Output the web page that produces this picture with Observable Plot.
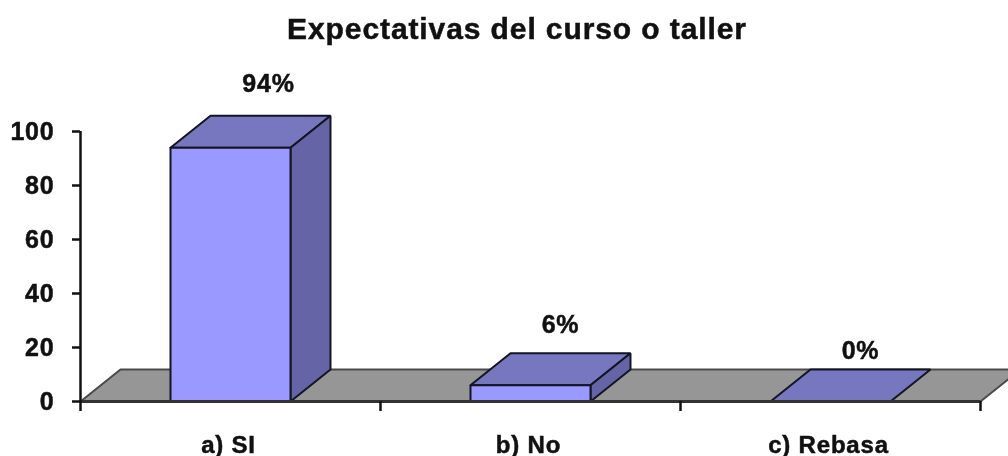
<!DOCTYPE html>
<html>
<head>
<meta charset="utf-8">
<script src="https://cdn.jsdelivr.net/npm/d3@7"></script>
<script src="https://cdn.jsdelivr.net/npm/@observablehq/plot@0.6"></script>
<style>
  html, body { margin: 0; padding: 0; background: #fff; overflow: hidden; }
  #title { height: 60px; box-sizing: border-box; padding-left: 26px; text-align: center; letter-spacing: 0.9px;
    font: bold 30px/58px "Liberation Sans", Arial, sans-serif; color: #111; filter: blur(0.45px);
    -webkit-text-stroke: 0.5px #111; }
  svg { display: block; filter: blur(0.45px); }
  svg text { letter-spacing: 0.8px; stroke: #111; stroke-width: 0.5px; }
</style>
</head>
<body>
<div id="title">Expectativas del curso o taller</div>
<div id="chart"></div>
<script>
const categories = ["a) SI", "b) No", "c) Rebasa"];
const values = [94, 6, 0];
const valueLabels = ["94%", "6%", "0%"];
const yTicks = [0, 20, 40, 60, 80, 100];
const xBoundaries = [0, 1, 2, 3];

// 3D projection expressed in data units
const barWidth = 0.4;
const depthX = 0.1333;
const depthY = 11.85;

const poly = (pts, id, kind) => pts.concat([pts[0]]).map(([x, y]) => ({x, y, id, kind}));
const floorFace = poly([[0, 0], [3, 0], [3 + depthX, depthY], [depthX, depthY]], "floor", "floor");
const faces = values.flatMap((v, i) => {
  const l = i + 0.5 - barWidth / 2, r = i + 0.5 + barWidth / 2;
  const out = [poly([[l, v], [r, v], [r + depthX, v + depthY], [l + depthX, v + depthY]], "top" + i, "top")];
  if (v > 0) {
    out.push(poly([[r, 0], [r + depthX, depthY], [r + depthX, v + depthY], [r, v]], "side" + i, "side"));
    out.push(poly([[l, 0], [r, 0], [r, v], [l, v]], "front" + i, "front"));
  }
  return out.flat();
});
const colours = {floor: "#969696", top: "#7777c0", side: "#6464a6", front: "#9999ff"};
const face = (rows, sw, stroke) => Plot.line(rows, {x: "x", y: "y", z: "id", fill: d => colours[d.kind],
  stroke, strokeWidth: sw, curve: "linear", strokeLinejoin: "miter"});

const font = '"Liberation Sans", Arial, sans-serif';
const labelRows = categories.map((c, i) => ({c, x: i + 0.5, v: values[i], t: valueLabels[i], i}));
const labelLift = [-32, -28, -19];
const labelShift = [10, 2, 2];

const chart = Plot.plot({
  width: 1008, height: 396,
  marginLeft: 80, marginRight: 28, marginTop: 71, marginBottom: 55,
  style: {fontFamily: font, background: "transparent", overflow: "hidden"},
  x: {type: "linear", domain: [0, 3], axis: null},
  y: {domain: [0, 100], axis: null},
  marks: [
    face(floorFace, 2, "#4a4a4a"),
    face(faces, 2, "#141424"),
    Plot.ruleY([0], {x1: 0, x2: 3, stroke: "#333", strokeWidth: 3}),
    Plot.ruleX([0], {y1: 100, y2: 0, stroke: "#111", strokeWidth: 2.5}),
    Plot.axisY({ticks: yTicks, tickSize: 8, tickPadding: 18, tickFormat: d => d, label: null,
      fontSize: 25, fontWeight: "bold", stroke: "#111", strokeWidth: 2.5, fill: "#111"}),
    Plot.axisX({ticks: xBoundaries, tickSize: 10, tickFormat: () => "", label: null, stroke: "#111", strokeWidth: 2.5}),
    Plot.text(labelRows, {x: "x", frameAnchor: "bottom", dy: 51, dx: -2, text: "c", fontSize: 24, fontWeight: "bold", fill: "#111"}),
    ...labelRows.map(d => Plot.text([d], {
      x: r => r.x + depthX * 0.7, y: r => r.v + depthY, dy: labelLift[d.i], dx: labelShift[d.i], text: "t",
      fontSize: 25, fontWeight: "bold", fill: "#111"}))
  ]
});
document.getElementById("chart").append(chart);
</script>
</body>
</html>
